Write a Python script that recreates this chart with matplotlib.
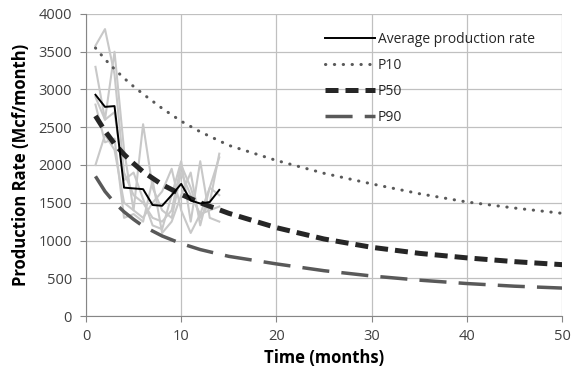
import matplotlib
matplotlib.use("Agg")
import matplotlib.pyplot as plt

# ---- data ----
months = [1, 2, 3, 4, 5, 6, 7, 8, 9, 10, 11, 12, 13, 14]
avg_rate = [2930, 2770, 2780, 1700, 1690, 1680, 1470, 1460, 1600, 1750, 1530, 1490, 1510, 1670]
well_1 = [3580, 3800, 3200, 1900, 1600, 1500, 1300, 1250, 1400, 2000, 1700, 1300, 1500, 2150]
well_2 = [3300, 2600, 3500, 2200, 1400, 2540, 1700, 1400, 1300, 1900, 1600, 1350, 1400, 1450]
well_3 = [2900, 2600, 2700, 1800, 1900, 1550, 1200, 1150, 1600, 2050, 1250, 2050, 1300, 1250]
well_4 = [2000, 2400, 2200, 1500, 1400, 1300, 1500, 1650, 1950, 1400, 1100, 1350, 1700, 2100]
well_5 = [2800, 2300, 2350, 1300, 1350, 1250, 1800, 1100, 1250, 1600, 1900, 1200, 1700, 1600]
wells = [well_1, well_2, well_3, well_4, well_5]

forecast_months = [1, 2, 3, 4, 5, 6, 8, 10, 12, 15, 20, 25, 30, 35, 40, 45, 50]
p10 = [3550, 3400, 3270, 3150, 3040, 2940, 2750, 2580, 2440, 2260, 2060, 1890, 1750, 1620, 1510, 1430, 1360]
p50 = [2650, 2450, 2280, 2140, 2020, 1910, 1740, 1610, 1500, 1360, 1170, 1020, 910, 830, 770, 720, 680]
p90 = [1850, 1650, 1500, 1380, 1280, 1190, 1060, 960, 880, 790, 690, 600, 530, 475, 430, 395, 370]

x_ticks = [0, 10, 20, 30, 40, 50]
y_ticks = [0, 500, 1000, 1500, 2000, 2500, 3000, 3500, 4000]

plt.rcParams['font.family'] = ['Open Sans', 'DejaVu Sans']

fig = plt.figure(figsize=(5.73, 3.78), dpi=100)
ax = fig.add_axes([0.150, 0.164, 0.831, 0.799])

for w in wells:
    ax.plot(months, w, color='#c8c8c8', lw=1.5, zorder=2)

ax.plot(months, avg_rate, color='black', lw=1.4, label='Average production rate', zorder=5)
ax.plot(forecast_months, p10, color='#595959', lw=2.2, linestyle=(0, (0.1, 2.8)),
        dash_capstyle='round', label='P10', zorder=4)
ax.plot(forecast_months, p50, color='#262626', lw=3.6, linestyle=(0, (2.6, 1.4)), label='P50', zorder=4)
ax.plot(forecast_months, p90, color='#595959', lw=2.5, linestyle=(0, (7.8, 3.5)), label='P90', zorder=4)

ax.set_xlim(0, 50)
ax.set_ylim(0, 4000)
ax.set_xticks(x_ticks)
ax.set_yticks(y_ticks)
ax.grid(True, color='#c0c0c0', lw=0.9)
ax.set_axisbelow(True)
for s in ['top', 'right']:
    ax.spines[s].set_visible(False)
for s in ['left', 'bottom']:
    ax.spines[s].set_color('#868686')
ax.tick_params(axis='both', colors='#868686', labelcolor='#404040', labelsize=10.5, length=4)
ax.tick_params(axis='x', pad=5)
ax.tick_params(axis='y', pad=6)

ax.set_xlabel('Time (months)', fontsize=12, fontweight='bold', color='black', labelpad=4)
ax.set_ylabel('Production Rate (Mcf/month)', fontsize=12, fontweight='bold', color='black', labelpad=6)

leg = ax.legend(loc='upper left', bbox_to_anchor=(0.49, 0.96), frameon=False, fontsize=10,
                handlelength=3.6, handletextpad=0.2, labelspacing=0.8, borderaxespad=0)
for t in leg.get_texts():
    t.set_color('#262626')

fig.savefig('out.png', dpi=100)
